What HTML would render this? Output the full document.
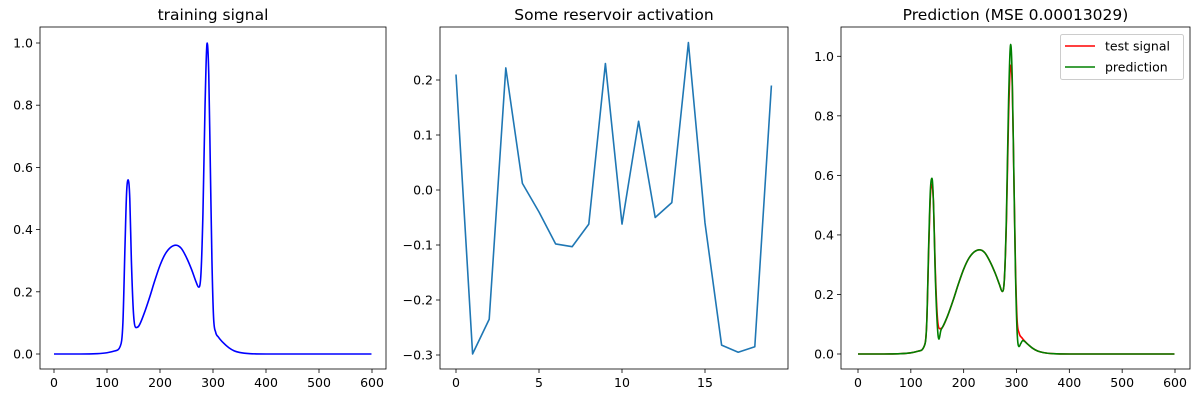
<!DOCTYPE html>
<html><head><meta charset="utf-8"><style>
html,body{margin:0;padding:0;background:#fff}
svg{display:block;font-family:"DejaVu Sans","Liberation Sans",sans-serif}
</style></head><body>
<svg id="fig" width="1200" height="400" xmlns="http://www.w3.org/2000/svg"></svg>
<script>
// ---- data ----
const trainX = [0,50,80,100,115,125,130,134,137,140,143,146,150,155,160,170,180,190,200,210,220,230,240,250,260,268,273,277,281,285,289,292,295,298,301,305,310,320,330,340,350,370,400,599];
const trainY = [0,0,0.001,0.004,0.01,0.025,0.1,0.35,0.52,0.56,0.5,0.3,0.13,0.085,0.09,0.13,0.18,0.235,0.285,0.322,0.343,0.35,0.34,0.31,0.27,0.232,0.215,0.25,0.45,0.8,1.0,0.9,0.6,0.3,0.12,0.07,0.055,0.035,0.02,0.01,0.005,0.001,0,0];
const resX = [0,1,2,3,4,5,6,7,8,9,10,11,12,13,14,15,16,17,18,19];
const resY = [0.21,-0.298,-0.235,0.222,0.012,-0.04,-0.098,-0.103,-0.062,0.23,-0.062,0.125,-0.05,-0.023,0.268,-0.06,-0.282,-0.295,-0.285,0.19];
const testX = [0,50,80,100,115,125,130,134,137,140,143,146,150,155,160,170,180,190,200,210,220,230,240,250,260,268,273,277,281,285,289,292,295,298,301,305,310,320,330,340,350,370,400,599];
const testY = [0,0,0.001,0.004,0.01,0.025,0.1,0.36,0.53,0.57,0.5,0.3,0.13,0.085,0.09,0.13,0.18,0.235,0.285,0.322,0.343,0.35,0.34,0.31,0.27,0.232,0.21,0.25,0.45,0.8,0.97,0.9,0.6,0.3,0.12,0.07,0.055,0.035,0.02,0.01,0.005,0.001,0,0];
const predX = [0,50,80,100,115,125,130,134,137,140,143,146,150,153,157,160,170,180,190,200,210,220,230,240,250,260,268,273,277,281,285,289,292,295,298,301,305,308,312,320,330,340,350,370,400,599];
const predY = [0,0,0.001,0.004,0.01,0.025,0.1,0.38,0.55,0.59,0.5,0.28,0.1,0.05,0.08,0.09,0.13,0.18,0.235,0.285,0.322,0.343,0.35,0.34,0.31,0.27,0.232,0.21,0.25,0.47,0.85,1.04,0.92,0.6,0.28,0.08,0.025,0.035,0.045,0.035,0.02,0.01,0.005,0.001,0,0];
const ticks600 = [0,100,200,300,400,500,600];
const ticksY1 = [0.0,0.2,0.4,0.6,0.8,1.0];
const ticksResX = [0,5,10,15];
const ticksResY = [-0.3,-0.2,-0.1,0.0,0.1,0.2];

const NS="http://www.w3.org/2000/svg";
const svg=document.getElementById('fig');
function mk(tag,attrs,parent){const e=document.createElementNS(NS,tag);for(const k in attrs)e.setAttribute(k,attrs[k]);(parent||svg).appendChild(e);return e;}
function lin(d0,d1,r0,r1){return v=>r0+(v-d0)*(r1-r0)/(d1-d0);}
function panel(name,box,sx,sy,xt,yt,fmtX,fmtY,title){
  const g=mk('g',{});
  
  
  const t=mk('text',{x:(box.l+box.r)/2,y:20,'text-anchor':'middle','font-size':'15.5',fill:'#000'},g);
  t.textContent=title;
  
  
  xt.forEach(v=>{const x=sx(v);
    mk('line',{x1:x,x2:x,y1:box.b,y2:box.b+4,stroke:'#000','stroke-width':0.8},g);
    const tx=mk('text',{x:x,y:box.b+18,'text-anchor':'middle','font-size':'12.5',fill:'#000'},g);
    tx.textContent=fmtX(v);
    
    });
  yt.forEach(v=>{const y=sy(v);
    mk('line',{x1:box.l-4,x2:box.l,y1:y,y2:y,stroke:'#000','stroke-width':0.8},g);
    const ty=mk('text',{x:box.l-7,y:y+4.5,'text-anchor':'end','font-size':'12.5',fill:'#000'},g);
    ty.textContent=fmtY(v);
    
    });
  return g;
}
// monotone cubic (Fritsch-Carlson) smoothing in pixel space
function smoothPath(P){
  const n=P.length; if(n<3) return 'M'+P.map(p=>p.join(',')).join('L');
  const d=[],m=[];
  for(let i=0;i<n-1;i++) d.push((P[i+1][1]-P[i][1])/(P[i+1][0]-P[i][0]));
  m[0]=d[0]; m[n-1]=d[n-2];
  for(let i=1;i<n-1;i++) m[i]=(d[i-1]*d[i]<=0)?0:(d[i-1]+d[i])/2;
  for(let i=0;i<n-1;i++){ if(d[i]===0){m[i]=0;m[i+1]=0;continue;}
    const a=m[i]/d[i],b=m[i+1]/d[i],s=a*a+b*b; if(s>9){const t=3/Math.sqrt(s);m[i]=t*a*d[i];m[i+1]=t*b*d[i];}}
  let s='M'+P[0][0].toFixed(2)+','+P[0][1].toFixed(2);
  for(let i=0;i<n-1;i++){const h=(P[i+1][0]-P[i][0])/3;
    s+='C'+(P[i][0]+h).toFixed(2)+','+(P[i][1]+m[i]*h).toFixed(2)+' '+(P[i+1][0]-h).toFixed(2)+','+(P[i+1][1]-m[i+1]*h).toFixed(2)+' '+P[i+1][0].toFixed(2)+','+P[i+1][1].toFixed(2);}
  return s;
}
function line(g,xs,ys,sx,sy,color,name,smooth){
  const P=xs.map((x,i)=>[sx(x),sy(ys[i])]);
  const dstr=smooth?smoothPath(P):'M'+P.map(p=>p[0].toFixed(2)+','+p[1].toFixed(2)).join('L');
  const p=mk('path',{d:dstr,fill:'none',stroke:color,'stroke-width':1.6,'stroke-linejoin':'round'},g);
  
  
}
function frame(g,box){mk('rect',{x:box.l,y:box.t,width:box.r-box.l,height:box.b-box.t,fill:'none',stroke:'#000','stroke-width':0.8},g);}
const f1=v=>v.toFixed(1);
const mi=s=>s.replace('-','\u2212');

// panel 1
const b1={l:40,r:386,t:27,b:369};
const sx1=lin(0,600,54,372), sy1=lin(0,1,354,43);
const g1=panel('training-signal-chart',b1,sx1,sy1,ticks600,ticksY1,v=>String(v),f1,'training signal');
line(g1,trainX,trainY,sx1,sy1,'#0000ff','training-signal-line',true);
frame(g1,b1);

// panel 2
const b2={l:440,r:788,t:27,b:369};
const sx2=lin(0,15,456,705), sy2=lin(-0.3,0.2,355,80);
const g2=panel('reservoir-activation-chart',b2,sx2,sy2,ticksResX,ticksResY,v=>String(v),v=>mi(v.toFixed(1)),'Some reservoir activation');
line(g2,resX,resY,sx2,sy2,'#1f77b4','reservoir-activation-line',false);
frame(g2,b2);

// panel 3
const b3={l:841,r:1190,t:27,b:369};
const sx3=lin(0,600,858,1175), sy3=lin(0,1,354,56.3);
const g3=panel('prediction-chart',b3,sx3,sy3,ticks600,ticksY1,v=>String(v),f1,'Prediction (MSE 0.00013029)');
line(g3,testX,testY,sx3,sy3,'#ff0000','test-signal-line',true);
line(g3,predX,predY,sx3,sy3,'#008000','prediction-line',true);
frame(g3,b3);
const lg=mk('g',{},g3);


mk('rect',{x:1060.5,y:34.5,width:123,height:45,rx:2,fill:'#fff','fill-opacity':0.8,stroke:'#ccc','stroke-width':1},lg);
[['test signal','#ff0000',46],['prediction','#008000',67]].forEach(([lab,c,y])=>{
  mk('line',{x1:1065,x2:1095,y1:y,y2:y,stroke:c,'stroke-width':1.6},lg);
  const t=mk('text',{x:1105,y:y+4.5,'font-size':'12.5',fill:'#000'},lg);
  t.textContent=lab;
  
  
});
</script>
</body></html>
